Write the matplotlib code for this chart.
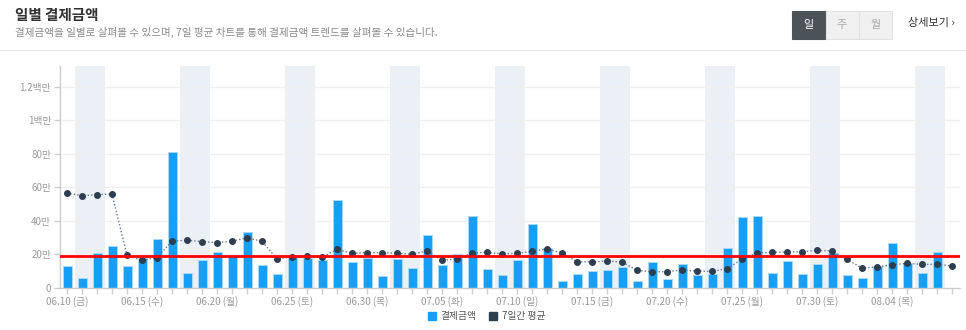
import matplotlib
matplotlib.use("Agg")
import matplotlib.pyplot as plt
from matplotlib.patches import Rectangle
from matplotlib.lines import Line2D
import numpy as np
import pandas as pd

plt.rcParams['font.family'] = ['Noto Sans CJK KR', 'DejaVu Sans']

# ---------------- data ----------------
start_date = "2022-06-10"
n_days = 60
weekday_ko = ["월", "화", "수", "목", "금", "토", "일"]

# daily payment amount (KRW); last day has no bar
daily_amount = [129000, 58000, 211000, 249000, 133000, 179000, 293000, 812000, 88000, 165000,
                213000, 191000, 334000, 137000, 84000, 185000, 177000, 165000, 525000, 157000,
                181000, 74000, 173000, 119000, 314000, 137000, 205000, 430000, 115000, 80000,
                165000, 384000, 237000, 40000, 84000, 103000, 107000, 127000, 42000, 157000,
                56000, 145000, 76000, 84000, 241000, 422000, 430000, 88000, 161000, 84000,
                141000, 211000, 80000, 62000, 129000, 267000, 149000, 88000, 217000, np.nan]

# 7-day average
avg7 = [567000, 551000, 557000, 561000, 195000, 165000, 181000, 279000, 285000, 277000,
        271000, 279000, 299000, 279000, 173000, 187000, 191000, 183000, 231000, 207000,
        211000, 211000, 207000, 201000, 221000, 165000, 173000, 209000, 213000, 203000,
        207000, 219000, 233000, 209000, 157000, 155000, 161000, 155000, 106000, 96000,
        98000, 107000, 101000, 99000, 115000, 171000, 209000, 213000, 215000, 217000,
        225000, 221000, 171000, 119000, 125000, 139000, 147000, 141000, 141000, 131000]

reference_level = 190000

y_ticks = [0, 200000, 400000, 600000, 800000, 1000000, 1200000]
y_tick_labels = ["0", "20만", "40만", "60만", "80만", "1백만", "1.2백만"]

series_names = ["결제금액", "7일간 평균"]

title_text = "일별 결제금액"
subtitle_text = "결제금액을 일별로 살펴볼 수 있으며, 7일 평균 차트를 통해 결제금액 트렌드를 살펴볼 수 있습니다."
button_labels = ["일", "주", "월"]
detail_text = "상세보기 ›"

# ---------------- figure ----------------
W, H = 966, 330
fig = plt.figure(figsize=(W / 100, H / 100), dpi=100)

def fx(px):
    return px / W

def fy(py):
    return 1 - py / H

ax_left, ax_right, ax_top, ax_bottom = 59.5, 959.5, 66, 288
ax = fig.add_axes([fx(ax_left), fy(ax_bottom), fx(ax_right - ax_left), (ax_bottom - ax_top) / H])

dates = pd.date_range(start_date, periods=n_days)
x = np.arange(n_days)

# weekend bands
for i, d in enumerate(dates):
    if d.weekday() == 5:
        ax.axvspan(i - 0.5, i + 1.5, color="#ebf0f7", zorder=0, lw=0)

# gridlines
for yt in y_ticks[1:]:
    ax.axhline(yt, color="#f0f0f0", lw=1, zorder=0.5)

ax.bar(x, daily_amount, width=0.6, color="#169ff5", edgecolor="#a8d9fc", linewidth=0.7, zorder=2)
ax.plot(x, avg7, linestyle=(0, (1, 1.5)), color="#66768a", lw=1, marker="o",
        markersize=4.0, markerfacecolor="#2c3e50", markeredgecolor="#2c3e50", zorder=3)
ax.axhline(reference_level, color="#ff0000", lw=2, zorder=4)

ax.set_xlim(-0.5, n_days - 0.5)
ax.set_ylim(0, 1325000)

ax.set_yticks(y_ticks)
ax.set_yticklabels(y_tick_labels)
ax.set_xticks(x, minor=True)
major = list(range(0, n_days, 5))
ax.set_xticks(major)
ax.set_xticklabels([f"{dates[i].strftime('%m.%d')} ({weekday_ko[dates[i].weekday()]})" for i in major])

ax.tick_params(axis="both", colors="#cccccc", labelcolor="#999999", labelsize=7, length=4, width=1)
ax.tick_params(axis="x", which="minor", colors="#cccccc", length=4, width=1)
ax.tick_params(axis="x", pad=1.5)
ax.tick_params(axis="y", pad=2)

for s in ["top", "right"]:
    ax.spines[s].set_visible(False)
for s in ["left", "bottom"]:
    ax.spines[s].set_color("#cccccc")
    ax.spines[s].set_linewidth(1)

# legend
handles = [Line2D([], [], marker="s", linestyle="none", markersize=6, color="#169ff5"),
           Line2D([], [], marker="s", linestyle="none", markersize=6, color="#2c3e50")]
leg = fig.legend(handles, series_names, loc="center", bbox_to_anchor=(fx(486), fy(316)),
                 ncol=2, frameon=False, fontsize=7, handlelength=1, handletextpad=0.4,
                 columnspacing=1.2)
for t in leg.get_texts():
    t.set_color("#555555")

# header
fig.text(fx(15), fy(15), title_text, fontsize=10.5, fontweight="bold", color="#333333",
         ha="left", va="center")
fig.text(fx(15), fy(32), subtitle_text, fontsize=7.6, color="#8a8a8a", ha="left", va="center")
fig.add_artist(Line2D([0, 1], [fy(50), fy(50)], transform=fig.transFigure, color="#e8e8e8", lw=1))

btn_x = [792, 825.5, 859]
btn_w = 33
for i, (bx, lab) in enumerate(zip(btn_x, button_labels)):
    active = i == 0
    fig.add_artist(Rectangle((fx(bx), fy(39)), fx(btn_w), 28 / H, transform=fig.transFigure,
                             facecolor="#4b5359" if active else "#f0f0f0",
                             edgecolor="#4b5359" if active else "#e2e2e2", lw=0.8))
    fig.text(fx(bx + btn_w / 2), fy(25), lab, fontsize=8, color="white" if active else "#aaaaaa",
             ha="center", va="center")
fig.text(fx(908), fy(23), detail_text, fontsize=8, color="#333333", ha="left", va="center")

fig.savefig("out.png", dpi=100)
